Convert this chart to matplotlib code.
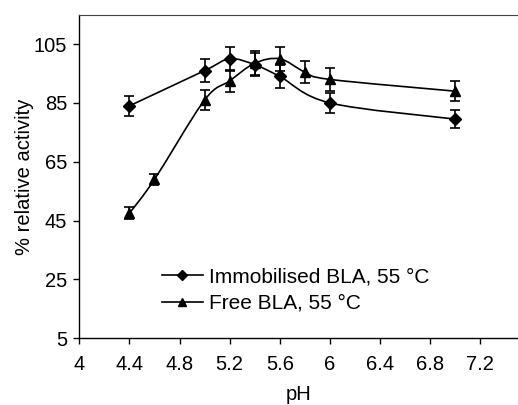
import matplotlib.pyplot as plt
from matplotlib.path import Path
from matplotlib.patches import PathPatch
from matplotlib.lines import Line2D

# data
ph_immob = [4.4, 5.0, 5.2, 5.4, 5.6, 6.0, 7.0]
act_immob = [84, 96, 100, 98, 94, 85, 79.5]
err_immob = [3.3, 4, 4, 4, 4, 3.5, 3]

ph_free = [4.4, 4.6, 5.0, 5.2, 5.4, 5.6, 5.8, 6.0, 7.0]
act_free = [47.5, 59, 86, 92.5, 98.5, 100, 95.5, 93, 89]
err_free = [2, 2, 3.4, 3.7, 4, 4, 3.7, 3.8, 3.3]

labels = ["Immobilised BLA, 55 °C", "Free BLA, 55 °C"]

plt.rcParams['font.family'] = ['Liberation Sans', 'DejaVu Sans']
plt.rcParams['font.size'] = 14.5


def smooth_path(x, y):
    # Excel-like smoothed line: cubic Bezier segments through the points
    verts = [(x[0], y[0])]
    codes = [Path.MOVETO]
    n = len(x)
    for i in range(n - 1):
        x0, y0 = (x[i - 1], y[i - 1]) if i > 0 else (x[i], y[i])
        x3, y3 = (x[i + 2], y[i + 2]) if i + 2 < n else (x[i + 1], y[i + 1])
        c1 = (x[i] + (x[i + 1] - x0) / 6, y[i] + (y[i + 1] - y0) / 6)
        c2 = (x[i + 1] - (x3 - x[i]) / 6, y[i + 1] - (y3 - y[i]) / 6)
        verts += [c1, c2, (x[i + 1], y[i + 1])]
        codes += [Path.CURVE4] * 3
    return Path(verts, codes)


fig = plt.figure(figsize=(5.18, 4.05), dpi=100)
ax = fig.add_axes([0.153, 0.1647, 0.847, 0.799])

for x, y, e, m in [(ph_immob, act_immob, err_immob, 'D'),
                   (ph_free, act_free, err_free, '^')]:
    ax.add_patch(PathPatch(smooth_path(x, y), fill=False, lw=1.2,
                           ec='black', zorder=2))
    ax.errorbar(x, y, yerr=e, fmt=m, color='black', ms=7 if m == '^' else 6,
                capsize=3.3, elinewidth=1.2, capthick=1.2, zorder=3)

ax.set_xlim(4, 7.5)
ax.set_ylim(5, 115)
ax.set_xticks([4, 4.4, 4.8, 5.2, 5.6, 6, 6.4, 6.8, 7.2])
ax.set_xticklabels(['4', '4.4', '4.8', '5.2', '5.6', '6', '6.4', '6.8', '7.2'])
ax.set_yticks([5, 25, 45, 65, 85, 105])
ax.tick_params(direction='out', length=4.3, width=1.0)
ax.tick_params(axis='x', pad=7.5)
ax.tick_params(axis='y', pad=4.5)

ax.spines['right'].set_visible(False)
ax.spines['top'].set_color('#444444')
ax.spines['left'].set_linewidth(1.0)
ax.spines['bottom'].set_linewidth(1.0)

ax.set_xlabel('pH', labelpad=8)
ax.set_ylabel('% relative activity', labelpad=0)

handles = [Line2D([], [], color='black', marker='D', ms=5, lw=1.2),
           Line2D([], [], color='black', marker='^', ms=6, lw=1.2)]
ax.legend(handles, labels, loc='lower left', bbox_to_anchor=(0.17, 0.053),
          frameon=False, fontsize=15, handlelength=1.95, handletextpad=0.3,
          labelspacing=0.35, borderaxespad=0)

fig.savefig('out.png', dpi=100)
